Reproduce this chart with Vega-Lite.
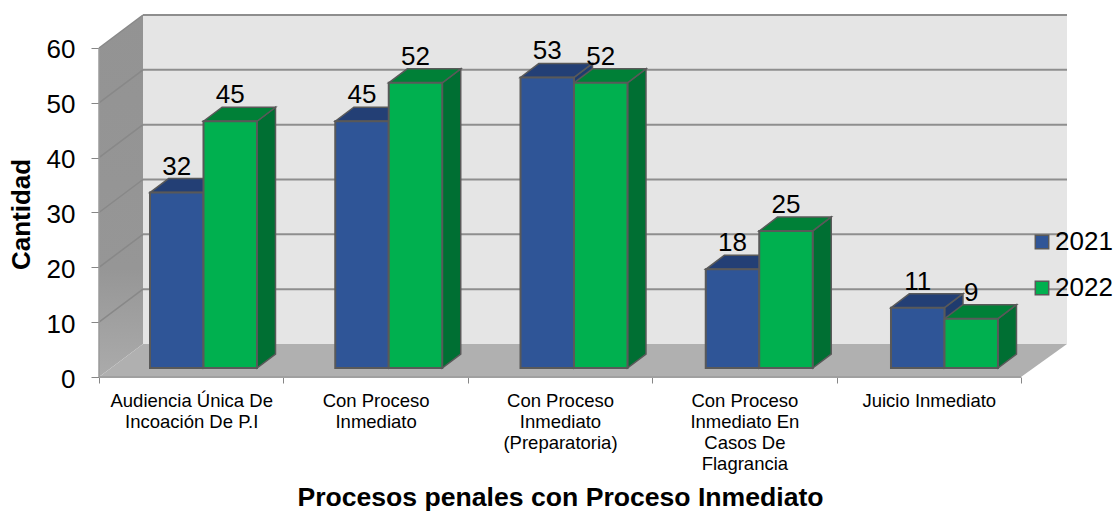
{
"$schema":"https://vega.github.io/schema/vega-lite/v6.json",
"autosize":{"type":"none"},
"width":968,"height":363,
"padding":{"left":99,"top":14,"right":47,"bottom":134},
"background":"#ffffff",
"config":{"font":"Liberation Sans","view":{"stroke":null}},
"resolve":{"axis":{"x":"independent","y":"independent"}},
"data":{"values":[
{"category":"Audiencia Única De Incoación De P.I","series":"2021","value":32},
{"category":"Audiencia Única De Incoación De P.I","series":"2022","value":45},
{"category":"Con Proceso Inmediato","series":"2021","value":45},
{"category":"Con Proceso Inmediato","series":"2022","value":52},
{"category":"Con Proceso Inmediato (Preparatoria)","series":"2021","value":53},
{"category":"Con Proceso Inmediato (Preparatoria)","series":"2022","value":52},
{"category":"Con Proceso Inmediato En Casos De Flagrancia","series":"2021","value":18},
{"category":"Con Proceso Inmediato En Casos De Flagrancia","series":"2022","value":25},
{"category":"Juicio Inmediato","series":"2021","value":11},
{"category":"Juicio Inmediato","series":"2022","value":9}
]},
"transform":[
{"calculate":"indexof(['Audiencia Única De Incoación De P.I','Con Proceso Inmediato','Con Proceso Inmediato (Preparatoria)','Con Proceso Inmediato En Casos De Flagrancia','Juicio Inmediato'],datum.category)","as":"idx"},
{"calculate":"datum.idx*1.0046+0.2766+(datum.series=='2021'?0:0.2901)","as":"x0"},
{"calculate":"datum.x0+0.2901","as":"x1"},
{"calculate":"datum.value+1.64","as":"top"},
{"calculate":"datum.category+datum.series","as":"key"}
],
"layer":[
{"data":{"values":[{}]},"mark":{"type":"rect","fill":"#e5e5e5"},
 "encoding":{"x":{"datum":0.2386,"type":"quantitative","scale":{"domain":[0,5.2495],"nice":false,"zero":false},
   "axis":{"values":[0,0.5,1,1.5,2,2.5,3,3.5,4,4.5,5],"grid":false,"domain":false,"tickSize":6,"tickColor":"#868686","tickOpacity":{"condition":{"test":"datum.value%1!=0","value":0},"value":1},
   "labelFontSize":18.5,"labelColor":"#000000","labelAngle":0,"labelPadding":8,"labelBaseline":"top","labelOverlap":false,"labelFlush":false,"labelBound":false,"labelLineHeight":21,
   "labelExpr":"datum.value==0.5?['Audiencia Única De','Incoación De P.I']:datum.value==1.5?['Con Proceso','Inmediato']:datum.value==2.5?['Con Proceso','Inmediato','(Preparatoria)']:datum.value==3.5?['Con Proceso','Inmediato En','Casos De','Flagrancia']:datum.value==4.5?'Juicio Inmediato':''",
   "title":"Procesos penales con Proceso Inmediato","titleFontSize":26.6,"titleFontWeight":"bold","titleColor":"#000000","titleX":461,"titleY":128,"titleBaseline":"alphabetic","titleAlign":"center"}},
  "x2":{"datum":5.2495},
  "y":{"datum":6.02,"type":"quantitative","scale":{"domain":[0,66.2],"nice":false,"zero":false},
   "axis":{"values":[0,10,20,30,40,50,60],"grid":false,"domain":false,"tickSize":8,"tickColor":"#868686","labelFontSize":26,"labelColor":"#000000","labelPadding":16,"labelOffset":2,
   "title":"Cantidad","titleFontSize":26,"titleFontWeight":"bold","titleColor":"#000000","titleX":-70,"titleY":200,"titleBaseline":"alphabetic","titleAngle":-90,"titleAlign":"center"}},
  "y2":{"datum":66.02}}},
{"data":{"values":[{"depth":0},{"depth":1}]},
 "transform":[{"calculate":"datum.depth*0.2386","as":"xx"},{"calculate":"datum.depth*6.02","as":"yy"},{"calculate":"60+datum.depth*6.02","as":"yy2"}],
 "mark":{"type":"area","fill":{"gradient":"linear","x1":0,"y1":0,"x2":0,"y2":1,"stops":[{"offset":0,"color":"#939393"},{"offset":0.7,"color":"#969696"},{"offset":1,"color":"#ababab"}]}},
 "encoding":{"x":{"field":"xx","type":"quantitative","axis":null},"y":{"field":"yy","type":"quantitative","axis":null},"y2":{"field":"yy2"}}},
{"data":{"values":[{"depth":0},{"depth":1}]},
 "transform":[{"calculate":"datum.depth*0.2386","as":"xx"},{"calculate":"5+datum.depth*0.2495","as":"xx2"},{"calculate":"datum.depth*6.02","as":"yy"}],
 "mark":{"type":"area","orient":"horizontal","fill":"#b0b0b0"},
 "encoding":{"y":{"field":"yy","type":"quantitative","axis":null},"x":{"field":"xx","type":"quantitative","axis":null},"x2":{"field":"xx2"}}},
{"data":{"values":[{"v":10},{"v":20},{"v":30},{"v":40},{"v":50},{"v":60}]},
 "transform":[{"calculate":"datum.v+6.02","as":"vb"}],
 "mark":{"type":"rule","stroke":"#8e8e8e","strokeWidth":2},
 "encoding":{"x":{"datum":0.2386,"type":"quantitative","axis":null},"x2":{"datum":5.2495},"y":{"field":"vb","type":"quantitative","axis":null}}},
{"data":{"values":[{"v":10},{"v":20},{"v":30},{"v":40},{"v":50},{"v":60}]},
 "transform":[{"calculate":"datum.v+6.02","as":"vb"}],
 "mark":{"type":"rule","stroke":"#888888","strokeWidth":1.5},
 "encoding":{"x":{"datum":0,"type":"quantitative","axis":null},"x2":{"datum":0.2386},"y":{"field":"v","type":"quantitative","axis":null},"y2":{"field":"vb"}}},
{"data":{"values":[{}]},"mark":{"type":"rule","stroke":"#a0a0a0","strokeWidth":2},
 "encoding":{"x":{"datum":0,"type":"quantitative","axis":null},"x2":{"datum":5},"y":{"datum":0,"type":"quantitative","axis":null}}},
{"data":{"values":[{}]},"mark":{"type":"rule","stroke":"#9a9a9a","strokeWidth":1.5},
 "encoding":{"x":{"datum":0,"type":"quantitative","axis":null},"y":{"datum":0,"type":"quantitative","axis":null},"y2":{"datum":60}}},
{"transform":[{"calculate":"[0,1]","as":"t"},{"flatten":["t"]},
  {"calculate":"datum.x1+datum.t*0.1003","as":"sx"},{"calculate":"datum.top+datum.t*2.553","as":"sy"},{"calculate":"1.64+datum.t*2.553","as":"sy2"}],
 "mark":{"type":"area","stroke":"#595959","strokeWidth":1.5},
 "encoding":{"detail":{"field":"key"},"x":{"field":"sx","type":"quantitative","axis":null},"y":{"field":"sy","type":"quantitative","axis":null},"y2":{"field":"sy2"},
  "fill":{"condition":{"test":"datum.series=='2021'","value":"#1f3b6e"},"value":"#006f33"}}},
{"transform":[{"calculate":"[0,1]","as":"t"},{"flatten":["t"]},
  {"calculate":"datum.x0+datum.t*0.1003","as":"tx"},{"calculate":"datum.x1+datum.t*0.1003","as":"tx2"},{"calculate":"datum.top+datum.t*2.553","as":"ty"}],
 "mark":{"type":"area","orient":"horizontal","stroke":"#595959","strokeWidth":1.5},
 "encoding":{"detail":{"field":"key"},"y":{"field":"ty","type":"quantitative","axis":null},"x":{"field":"tx","type":"quantitative","axis":null},"x2":{"field":"tx2"},
  "fill":{"condition":{"test":"datum.series=='2021'","value":"#233f75"},"value":"#008037"}}},
{"mark":{"type":"rect","stroke":"#595959","strokeWidth":2},
 "encoding":{"x":{"field":"x0","type":"quantitative","axis":null},"x2":{"field":"x1"},"y":{"field":"top","type":"quantitative","axis":null},"y2":{"datum":1.64},
  "fill":{"field":"series","type":"nominal","scale":{"domain":["2021","2022"],"range":["#2f5597","#00b04f"]},
   "legend":{"title":null,"orient":"none","legendX":930,"legendY":215,"symbolType":"square","symbolSize":180,"symbolStrokeColor":"#595959","symbolStrokeWidth":1.5,"labelFontSize":26,"labelColor":"#000000","rowPadding":20,"labelOffset":0}}}},
{"transform":[{"calculate":"(datum.x0+datum.x1)/2","as":"cx"}],
 "mark":{"type":"text","fontSize":26,"dy":-18,"baseline":"alphabetic","align":"center","color":"#000000"},
 "encoding":{"x":{"field":"cx","type":"quantitative","axis":null},"y":{"field":"top","type":"quantitative","axis":null},"text":{"field":"value","type":"quantitative"}}}
]
}
